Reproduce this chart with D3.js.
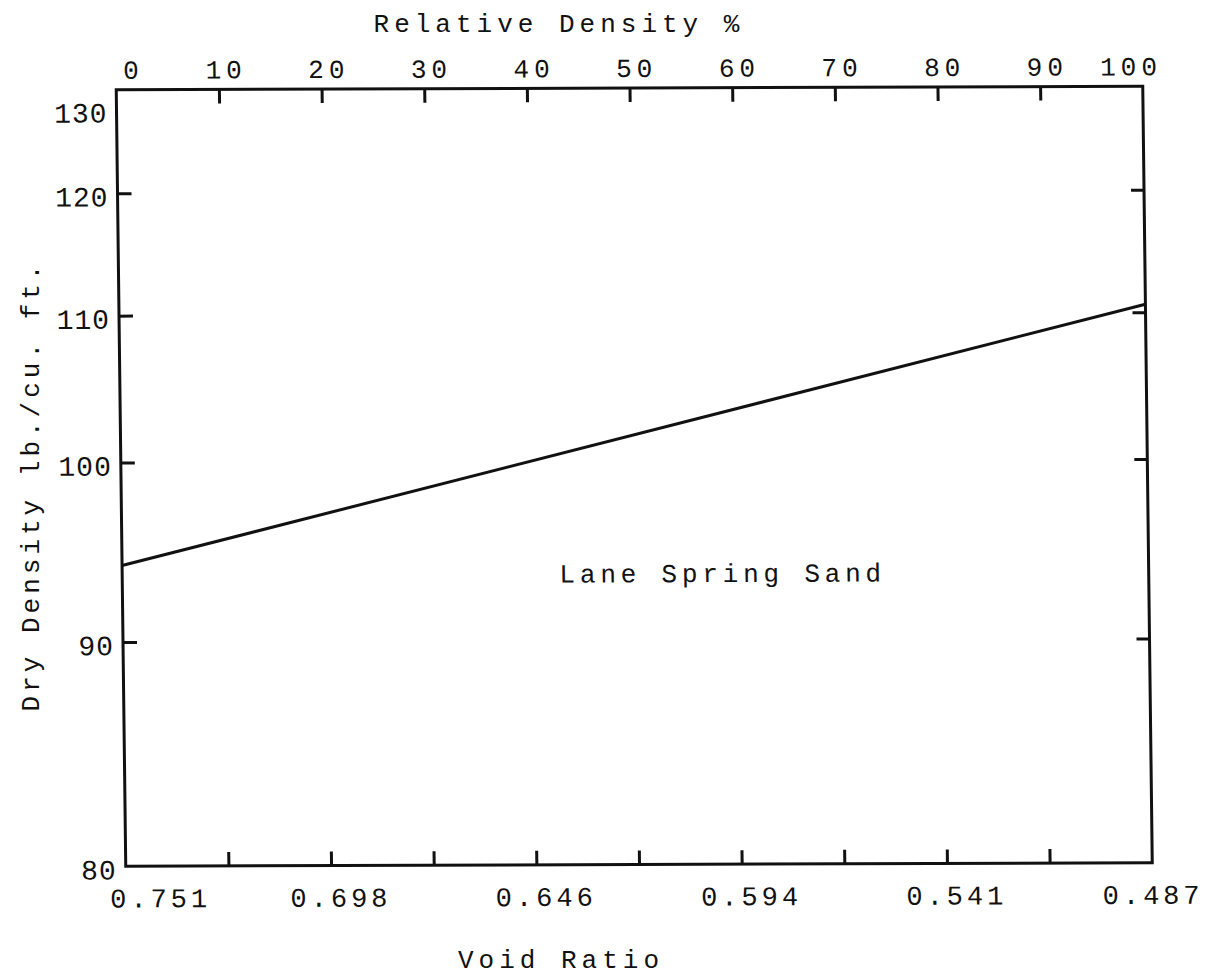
<!DOCTYPE html>
<html>
<head>
<meta charset="utf-8">
<script src="https://cdn.jsdelivr.net/npm/d3@7"></script>
<style>
  html, body { margin: 0; padding: 0; background: #fff; }
  svg { display: block; }
  text { font-family: "Liberation Mono", "Courier New", monospace; fill: #111; }
</style>
</head>
<body>
<svg id="chart" width="1211" height="978"></svg>
<script>
// values
const relDensityTicks = [0, 10, 20, 30, 40, 50, 60, 70, 80, 90, 100];
const voidRatioAt = [0, 20, 40, 60, 80, 100];            // relative density % where each void ratio is printed
const voidRatioLabels = ['0.751', '0.698', '0.646', '0.594', '0.541', '0.487'];
const dryDensityTicks = [80, 90, 100, 110, 120, 130];
const sandRelDensity = [0, 100];
const sandDryDensity = [94.0, 110.6];

const svg = d3.select('#chart');
const W = 1026.5;
const H = 776.5;

// the scan is slightly skewed, so the plot frame is drawn through a small affine transform
const plot = svg.append('g')
  .attr('transform', `matrix(1, ${-3.5 / W}, ${9.5 / H}, 1, 116.25, 89.75)`);

const xScale = d3.scaleLinear().domain([0, 100]).range([0, W]);
// dry density axis is reciprocal (linear in void ratio)
const yScale = d3.scalePow().exponent(-1).domain([80, 130]).range([H, 0]);

const inner = relDensityTicks.filter(d => d > 0 && d < 100);
const innerY = dryDensityTicks.filter(d => d > 80 && d < 130);

function styleAxis(g, size, spacing) {
  g.attr('font-family', null).attr('font-size', null);
  g.select('.domain').remove();
  g.selectAll('line').attr('stroke', '#111').attr('stroke-width', 3);
  g.selectAll('text')
    .style('font-size', size + 'px')
    .style('letter-spacing', spacing + 'px')
    .attr('fill', '#111');
}

// top axis: relative density
plot.append('g')
  .call(d3.axisTop(xScale).tickValues(inner).tickSizeInner(-14).tickSizeOuter(0).tickFormat(''))
  .call(g => styleAxis(g, 23, 0));
const topLabels = plot.append('g')
  .call(d3.axisTop(xScale).tickValues(relDensityTicks).tickSize(0).tickPadding(11).tickFormat(d3.format('d')))
  .call(g => styleAxis(g, 26, 5));
topLabels.selectAll('text')
  .attr('x', d => d === 0 ? 17 : (d === 100 ? -12 : 7));

// bottom axis: void ratio
plot.append('g')
  .attr('transform', `translate(0,${H})`)
  .call(d3.axisBottom(xScale).tickValues(inner).tickSizeInner(-14).tickSizeOuter(0).tickFormat(''))
  .call(g => styleAxis(g, 26, 0));
const bottomLabels = plot.append('g')
  .attr('transform', `translate(0,${H})`)
  .call(d3.axisBottom(xScale).tickValues(voidRatioAt).tickSize(0).tickPadding(22)
    .tickFormat((d, i) => voidRatioLabels[i]))
  .call(g => styleAxis(g, 27, 4));
bottomLabels.selectAll('text')
  .attr('x', d => d === 0 ? 34 : (d === 100 ? 0 : 9));

// left axis: dry density
const leftAxis = plot.append('g')
  .call(d3.axisLeft(yScale).tickValues(dryDensityTicks).tickSizeInner(-14).tickSizeOuter(0).tickPadding(9)
    .tickFormat(d3.format('d')))
  .call(g => styleAxis(g, 28, 1));
leftAxis.selectAll('.tick')
  .filter(d => d === 80 || d === 130)
  .select('line').remove();
leftAxis.selectAll('text')
  .attr('dy', d => d === 130 ? '1.15em' : '0.45em');

// right axis: ticks only
plot.append('g')
  .attr('transform', `translate(${W},0)`)
  .call(d3.axisRight(yScale).tickValues(innerY).tickSizeInner(-13).tickSizeOuter(0).tickFormat(''))
  .call(g => styleAxis(g, 26, 0));

// frame
plot.append('rect')
  .attr('x', 0).attr('y', 0)
  .attr('width', W).attr('height', H)
  .attr('fill', 'none')
  .attr('stroke', '#111')
  .attr('stroke-width', 3);

// Lane Spring Sand line
const sand = sandRelDensity.map((rd, i) => ({ rd: rd, dd: sandDryDensity[i] }));
const lineGenerator = d3.line()
  .x(d => xScale(d.rd))
  .y(d => yScale(d.dd));
plot.append('path')
  .datum(sand)
  .attr('d', lineGenerator)
  .attr('fill', 'none')
  .attr('stroke', '#111')
  .attr('stroke-width', 3);

plot.append('text')
  .attr('x', xScale(42.6))
  .attr('y', yScale(93.0))
  .style('font-size', '26px')
  .style('letter-spacing', '4.8px')
  .text('Lane Spring Sand');

// axis titles
svg.append('text')
  .attr('x', 559)
  .attr('y', 32)
  .attr('text-anchor', 'middle')
  .style('font-size', '26px')
  .style('letter-spacing', '5px')
  .text('Relative Density %');

svg.append('text')
  .attr('x', 561)
  .attr('y', 968)
  .attr('text-anchor', 'middle')
  .style('font-size', '26px')
  .style('letter-spacing', '5px')
  .text('Void Ratio');

svg.append('text')
  .attr('transform', 'translate(39,486) rotate(-90)')
  .attr('text-anchor', 'middle')
  .style('font-size', '26px')
  .style('letter-spacing', '4px')
  .text('Dry Density lb./cu. ft.');
</script>
</body>
</html>
